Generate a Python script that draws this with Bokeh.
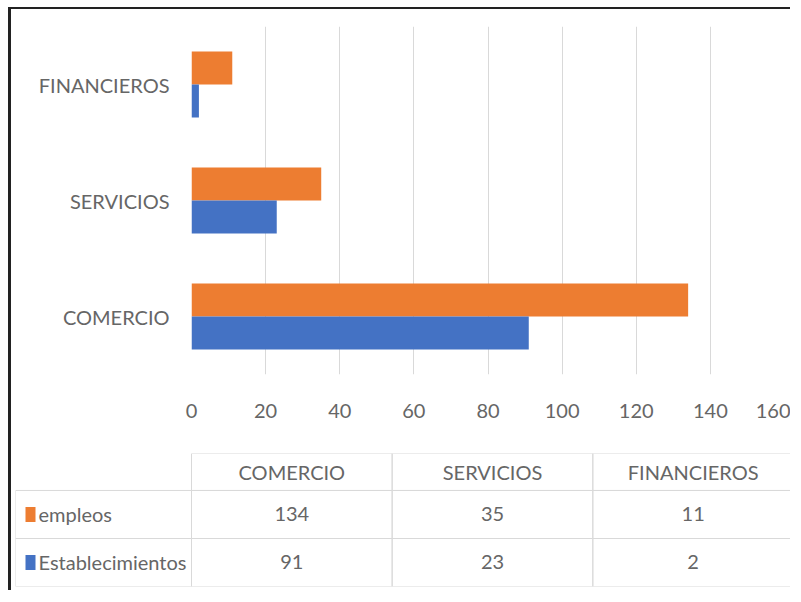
from bokeh.plotting import figure
from bokeh.models import FactorRange, Range1d, FixedTicker, ColumnDataSource
from bokeh.transform import dodge
from bokeh.core.properties import value
from bokeh.embed import file_html
from bokeh.resources import INLINE

# ---- data ----
categories = ["COMERCIO", "SERVICIOS", "FINANCIEROS"]
series_names = ["empleos", "Establecimientos"]
empleos = [134, 35, 11]
establecimientos = [91, 23, 2]
series_colors = ["#ED7D31", "#4472C4"]
x_ticks = [0, 20, 40, 60, 80, 100, 120, 140, 160]

FONT = "Lato"
TXT = "#666666"
GRID = "#D9D9D9"
FS = "20px"

# ---- bar chart ----
p = figure(y_range=FactorRange(*categories), x_range=Range1d(0, 160),
           width=782, height=421, output_backend="svg", toolbar_location=None,
           min_border_left=180, min_border_right=9, min_border_top=17, min_border_bottom=56,
           styles={"border-left": "3px solid #222", "border-top": "2px solid #222",
                   "margin-left": "8px", "margin-top": "7px"})
p.outline_line_color = None
src = ColumnDataSource(dict(cat=categories, emp=empleos, est=establecimientos))
bh = 0.285
p.hbar(y=dodge("cat", bh / 2, range=p.y_range), left=0, right="emp", height=bh,
       source=src, fill_color=series_colors[0], line_color=None)
p.hbar(y=dodge("cat", -bh / 2, range=p.y_range), left=0, right="est", height=bh,
       source=src, fill_color=series_colors[1], line_color=None)

p.xaxis.ticker = FixedTicker(ticks=x_ticks)
for ax in (p.xaxis[0], p.yaxis[0]):
    ax.axis_line_color = None
    ax.major_tick_line_color = None
    ax.minor_tick_line_color = None
    ax.major_label_text_font = FONT
    ax.major_label_text_font_size = FS
    ax.major_label_text_color = TXT
p.xaxis.major_label_standoff = 23
p.yaxis.major_label_standoff = 16
p.xgrid.grid_line_color = GRID
p.xgrid.grid_line_width = 1
p.ygrid.grid_line_color = None

# ---- data table ----
leg_w = 0.877
hdr_h = 0.77
nrows = len(series_names)
frame_w = 778
unit = frame_w / (leg_w + len(categories))
t = figure(x_range=Range1d(-leg_w, len(categories)), y_range=Range1d(0, nrows + hdr_h),
           width=782, height=162, output_backend="svg", toolbar_location=None,
           x_axis_location=None, y_axis_location=None,
           min_border_left=4, min_border_right=0, min_border_top=25, min_border_bottom=4,
           styles={"border-left": "3px solid #222", "margin-left": "8px"})
t.outline_line_color = None
t.grid.visible = False

cx = [i + 0.5 for i in range(len(categories))]
hy = nrows + hdr_h / 2
t.rect(x=cx, y=[hy] * len(cx), width=1, height=hdr_h, fill_color=None, line_color=GRID, line_width=1)
t.text(x=cx, y=[hy] * len(cx), text=categories, text_align="center", text_baseline="middle",
       text_font=value(FONT), text_font_size=FS, text_color=TXT)

for s, (name, vals, col) in enumerate(zip(series_names, [empleos, establecimientos], series_colors)):
    ry = nrows - s - 0.5
    t.rect(x=cx + [-leg_w / 2], y=[ry] * (len(cx) + 1), width=[1] * len(cx) + [leg_w], height=1,
           fill_color=None, line_color=GRID, line_width=1)
    t.text(x=cx, y=[ry] * len(cx), text=[str(v) for v in vals], text_align="center",
           text_baseline="middle", text_font=value(FONT), text_font_size=FS, text_color=TXT)
    t.rect(x=[-leg_w + 15 / unit], y=[ry], width=10, height=15,
           width_units="screen", height_units="screen", fill_color=col, line_color=None)
    t.text(x=[-leg_w], y=[ry], text=[name], x_offset=23, text_align="left", text_baseline="middle",
           text_font=value(FONT), text_font_size=FS, text_color=TXT)

open("out.html", "w").write(file_html([p, t], INLINE))
